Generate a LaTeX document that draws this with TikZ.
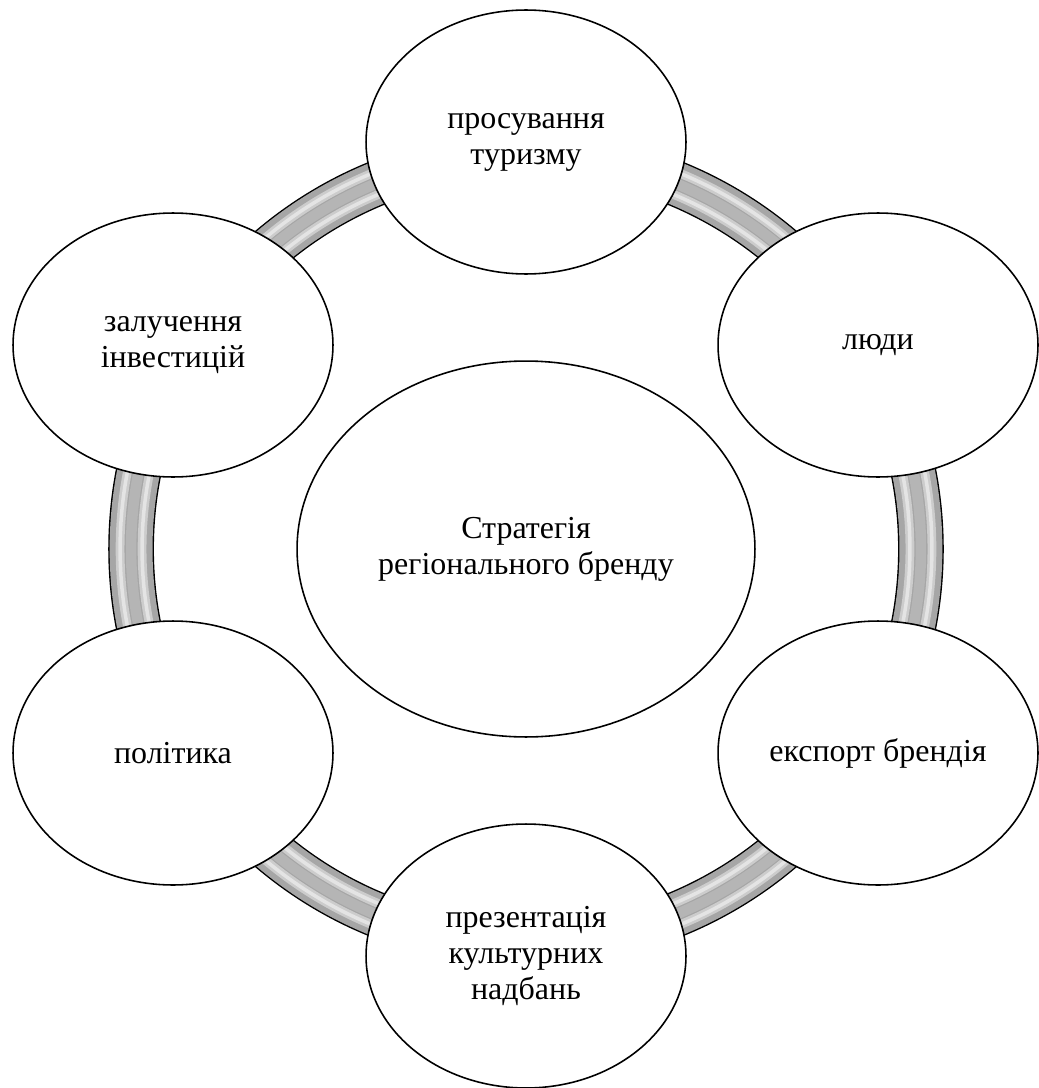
\documentclass[tikz,border=0pt]{standalone}
\usepackage{fontspec}
\setmainfont{Liberation Serif}
\usepackage{tikz}
\usetikzlibrary{shapes.geometric}
\definecolor{RGray}{HTML}{A6A6A6}
\definecolor{RLight}{HTML}{E4E4E4}

\begin{document}
\begin{tikzpicture}[
  x=0.02cm,y=-0.02cm,
  item/.style={ellipse,draw=black,line width=0.9pt,fill=white,inner sep=0pt,
    minimum width=6.4cm,minimum height=5.28cm,align=center,
    font=\fontsize{18.2}{20.5}\selectfont},
  hub/.style={item,minimum width=9.16cm,minimum height=7.52cm},
  band/.style={line width=#1}
]
  \useasboundingbox (0,0) rectangle (1038,1088);
  \coordinate (c) at (526,549);
  % ring behind the items
  \draw[band=26pt,black] (c) circle[radius=7.9cm];
  \draw[band=24.4pt,RGray] (c) circle[radius=7.9cm];
  \draw[band=5pt,gray!40] (c) circle[radius=7.68cm];
  \draw[band=5pt,gray!40] (c) circle[radius=8.12cm];
  \draw[band=2pt,RLight] (c) circle[radius=7.68cm];
  \draw[band=2pt,RLight] (c) circle[radius=8.12cm];
  \draw[band=6pt,gray!58] (c) circle[radius=7.9cm];
  % items
  \node[item] (tourism) at (526,142) {просування\\туризму};
  \node[item] (people) at (878,345) {люди};
  \node[item] (export) at (878,753) {експорт брендія};
  \node[item] (culture) at (526,956) {презентація\\культурних\\надбань};
  \node[item] (politics) at (173,753) {політика};
  \node[item] (invest) at (173,345) {залучення\\інвестицій};
  \node[hub] (strategy) at (c) {Стратегія\\регіонального бренду};
\end{tikzpicture}
\end{document}
